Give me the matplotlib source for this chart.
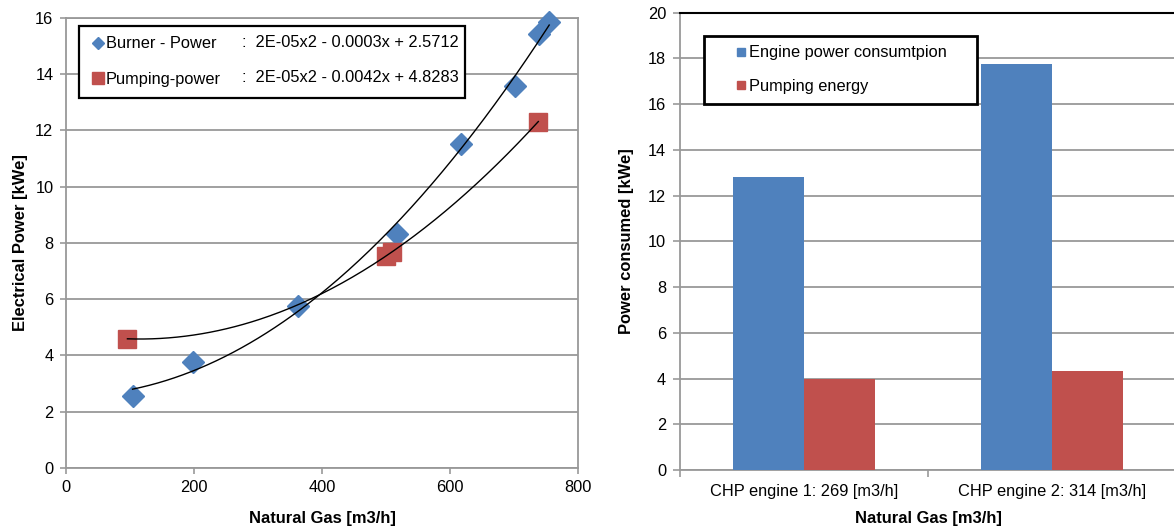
import numpy as np
import matplotlib
matplotlib.use("Agg")
import matplotlib.pyplot as plt
from matplotlib.lines import Line2D

plt.rcParams['font.family'] = ['Liberation Sans', 'DejaVu Sans']

# ---------------- data ----------------
burner_gas = [104, 199, 362, 517, 617, 701, 739, 755]
burner_power = [2.56, 3.75, 5.76, 8.30, 11.53, 13.56, 15.41, 15.83]
pump_gas = [96, 500, 510, 738]
pump_power = [4.59, 7.55, 7.67, 12.31]
burner_eq = "2E-05x2 - 0.0003x + 2.5712"
pump_eq = "2E-05x2 - 0.0042x + 4.8283"

categories = ["CHP engine 1: 269 [m3/h]", "CHP engine 2: 314 [m3/h]"]
engine_power = [12.8, 17.75]
pumping_energy = [4.0, 4.35]

BLUE = '#4F81BD'
RED = '#C0504D'
GRID = '#999999'
FS = 11.8
LFS = 11.9

fig = plt.figure(figsize=(11.74, 5.29), dpi=100)

# ---------------- left chart ----------------
ax1 = fig.add_axes([66/1174, 61/529, 512/1174, 450.3/529])
ax1.set_xlim(0, 800)
ax1.set_ylim(0, 16)
ax1.set_xticks(np.arange(0, 801, 200))
ax1.set_yticks(np.arange(0, 17, 2))
ax1.yaxis.grid(True, color=GRID, lw=1.3)
ax1.set_axisbelow(True)
for s in ax1.spines.values():
    s.set_color(GRID)
    s.set_linewidth(1.3)
ax1.tick_params(axis='both', labelsize=FS, color=GRID, length=4, width=1.2,
                direction='out', pad=5)

# trendlines (quadratic fit of the points)
for gx, gy in ((burner_gas, burner_power), (pump_gas, pump_power)):
    c = np.polyfit(gx, gy, 2)
    xs = np.linspace(min(gx), max(gx), 200)
    ax1.plot(xs, np.polyval(c, xs), color='black', lw=1.0, zorder=4)

ax1.plot(burner_gas, burner_power, linestyle='none', marker='D', ms=11,
         color=BLUE, mec=BLUE, zorder=3, clip_on=False)
ax1.plot(pump_gas, pump_power, linestyle='none', marker='s', ms=12.5,
         color=RED, mec=RED, zorder=3, clip_on=False)

h1 = [Line2D([], [], ls='none', marker='D', ms=6.5, color=BLUE),
      Line2D([], [], ls='none', marker='s', ms=8, color=RED)]
leg1 = ax1.legend(h1, ["Burner - Power", "Pumping-power"],
                  loc='upper left', bbox_to_anchor=(0.0254, 0.982, 0.754, 0.0),
                  mode='expand', borderaxespad=0, fontsize=FS,
                  borderpad=0.65, labelspacing=1.25, handlelength=1.04,
                  handletextpad=-0.07, fancybox=False, framealpha=1,
                  edgecolor='black')
leg1.get_frame().set_linewidth(1.6)
ax1.text(0.344, 0.9445, ":  " + burner_eq, transform=ax1.transAxes,
         fontsize=FS, va='center', ha='left', zorder=6)
ax1.text(0.344, 0.8668, ":  " + pump_eq, transform=ax1.transAxes,
         fontsize=FS, va='center', ha='left', zorder=6)

ax1.set_xlabel("Natural Gas [m3/h]", fontsize=LFS, fontweight='bold')
ax1.set_ylabel("Electrical Power [kWe]", fontsize=LFS, fontweight='bold')
ax1.xaxis.set_label_coords(0.5, -0.095)
ax1.yaxis.set_label_coords(-0.075, 0.5)

# ---------------- right chart ----------------
ax2 = fig.add_axes([680/1174, 59/529, 496/1174, 457.3/529])
ax2.set_xlim(0, 2)
ax2.set_ylim(0, 20)
ax2.set_yticks(np.arange(0, 21, 2))
xc = np.arange(len(categories)) + 0.5
w = 0.285
ax2.bar(xc - w/2, engine_power, width=w, color=BLUE, zorder=3)
ax2.bar(xc + w/2, pumping_energy, width=w, color=RED, zorder=3)
ax2.set_xticks(xc)
ax2.set_xticklabels(categories)
ax2.set_xticks([0, 1, 2], minor=True)
ax2.tick_params(axis='x', which='major', length=0, labelsize=FS, pad=10)
ax2.tick_params(axis='x', which='minor', length=5, width=1.2, color=GRID)
ax2.tick_params(axis='y', labelsize=FS, color=GRID, length=5, width=1.2, pad=5)
ax2.yaxis.grid(True, color=GRID, lw=1.3)
ax2.set_axisbelow(True)
ax2.spines['left'].set_color(GRID)
ax2.spines['bottom'].set_color(GRID)
ax2.spines['left'].set_linewidth(1.3)
ax2.spines['bottom'].set_linewidth(1.3)
ax2.spines['top'].set_color('black')
ax2.spines['top'].set_linewidth(1.5)
ax2.spines['right'].set_visible(False)

h2 = [Line2D([], [], ls='none', marker='s', ms=6, color=BLUE),
      Line2D([], [], ls='none', marker='s', ms=6, color=RED)]
leg2 = ax2.legend(h2, ["Engine power consumtpion", "Pumping energy"],
                  loc='upper left', bbox_to_anchor=(0.0484, 0.950, 0.550, 0.0),
                  mode='expand', borderaxespad=0, fontsize=FS,
                  borderpad=0.6, labelspacing=1.14, handlelength=3.31,
                  handletextpad=-1.17, fancybox=False, framealpha=1,
                  edgecolor='black')
leg2.get_frame().set_linewidth(2.0)

ax2.set_xlabel("Natural Gas [m3/h]", fontsize=LFS, fontweight='bold')
ax2.set_ylabel("Power consumed [kWe]", fontsize=LFS, fontweight='bold')
ax2.xaxis.set_label_coords(0.5, -0.089)
ax2.yaxis.set_label_coords(-0.093, 0.5)

fig.savefig("out.png", dpi=100)
